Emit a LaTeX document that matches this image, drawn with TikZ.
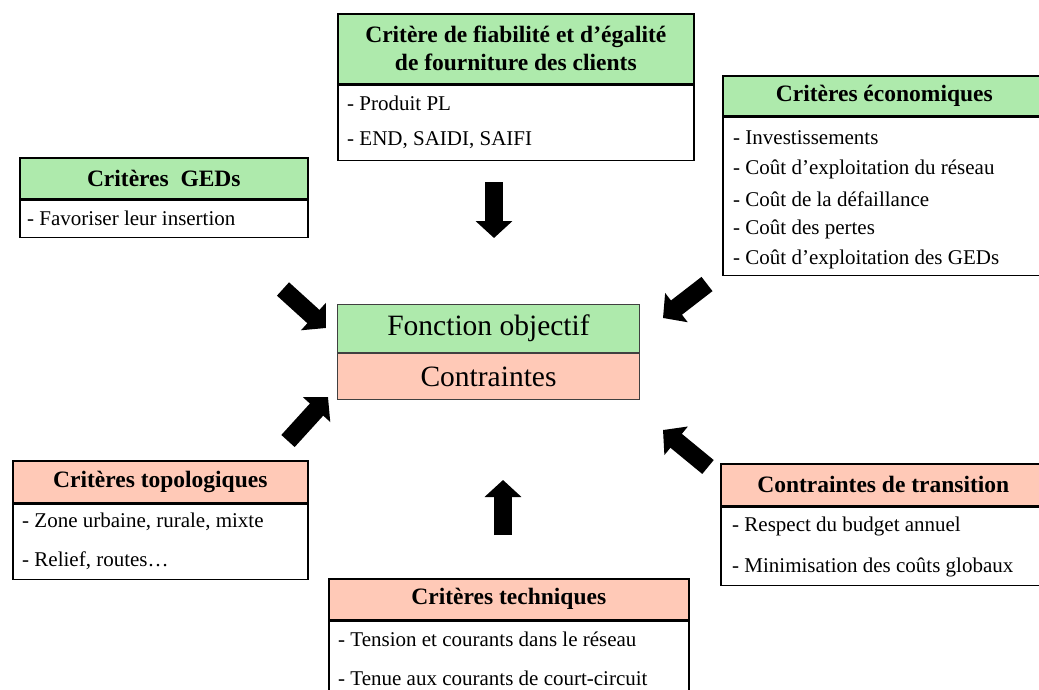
\documentclass[tikz,border=0pt]{standalone}
\usepackage{fontspec}
\setmainfont{Liberation Serif}
\usetikzlibrary{positioning,arrows.meta}
\definecolor{vert}{RGB}{174,234,172}
\definecolor{saumon}{RGB}{255,201,183}
\begin{document}
\begin{tikzpicture}[
  x=1pt, y=-1pt,
  tete/.style={draw=black, line width=1.6pt, inner sep=0pt, anchor=north west, align=center,
    font=\fontsize{23.5}{28}\selectfont\bfseries},
  corps/.style={draw=black, line width=1.6pt, inner sep=0pt, fill=white},
  ligne/.style={anchor=west, inner sep=0pt, font=\fontsize{21}{25}\selectfont},
  centre/.style={draw=black!75, line width=1pt, inner sep=0pt, font=\fontsize{29.5}{34}\selectfont},
  fleche/.style={line width=18pt, -{Triangle[width=36pt,length=17pt]}}
]
  \useasboundingbox (0,0) rectangle (1039,690);

  % Critere de fiabilite (haut)
  \node[tete, fill=vert, minimum width=356pt, minimum height=70pt] (fiabH) at (337,13)
    {Critère de fiabilité et d’égalité\\de fourniture des clients};
  \node[corps, minimum width=356pt, minimum height=75pt, below=0pt of fiabH] (fiabB) {};
  \node[ligne] (fiab1) at (347,103) {- Produit PL};
  \node[ligne] (fiab2) at (347,140) {- END, SAIDI, SAIFI};

  % Criteres GEDs
  \node[tete, fill=vert, minimum width=288pt, minimum height=41pt] (gedH) at (19,157) {Critères\ \ GEDs};
  \node[corps, minimum width=288pt, minimum height=37pt, below=0pt of gedH] (gedB) {};
  \node[ligne] (ged1) at (27,218) {- Favoriser leur insertion};

  % Criteres economiques
  \node[tete, fill=vert, minimum width=323pt, minimum height=40pt] (ecoH) at (722,75) {Critères économiques};
  \node[corps, minimum width=323pt, minimum height=158pt, below=0pt of ecoH] (ecoB) {};
  \node[ligne] (eco1) at (733,138) {- Investissements};
  \node[ligne] (eco2) at (733,169) {- Coût d’exploitation du réseau};
  \node[ligne] (eco3) at (733,199) {- Coût de la défaillance};
  \node[ligne] (eco4) at (733,229) {- Coût des pertes};
  \node[ligne] (eco5) at (733,259) {- Coût d’exploitation des GEDs};

  % Bloc central
  \node[centre, fill=vert, anchor=north west, minimum width=302pt, minimum height=48pt] (objF) at (337,304) {Fonction objectif};
  \node[centre, fill=saumon, minimum width=302pt, minimum height=46pt, below=0pt of objF] (objC) {Contraintes};

  % Criteres topologiques
  \node[tete, fill=saumon, minimum width=295pt, minimum height=42pt] (topoH) at (12,460) {Critères topologiques};
  \node[corps, minimum width=295pt, minimum height=75pt, below=0pt of topoH] (topoB) {};
  \node[ligne] (topo1) at (22,522) {- Zone urbaine, rurale, mixte};
  \node[ligne] (topo2) at (22,561) {- Relief, routes…};

  % Contraintes de transition
  \node[tete, fill=saumon, minimum width=325pt, minimum height=42pt] (transH) at (720,463) {Contraintes de transition};
  \node[corps, minimum width=325pt, minimum height=78pt, below=0pt of transH] (transB) {};
  \node[ligne] (trans1) at (732,526) {- Respect du budget annuel};
  \node[ligne] (trans2) at (732,567) {- Minimisation des coûts globaux};

  % Criteres techniques
  \node[tete, fill=saumon, minimum width=360pt, minimum height=41pt] (techH) at (328,578) {Critères techniques};
  \node[corps, minimum width=360pt, minimum height=85pt, below=0pt of techH] (techB) {};
  \node[ligne] (tech1) at (338,639) {- Tension et courants dans le réseau};
  \node[ligne] (tech2) at (338,678) {- Tenue aux courants de court-circuit};

  % Fleches vers le bloc central
  \coordinate (hautA) at (494,182);   \coordinate (hautB) at (494,238);
  \coordinate (basA) at (503,535);    \coordinate (basB) at (503,480);
  \coordinate (hgA) at (283,289);     \coordinate (hgB) at (326,328);
  \coordinate (bgA) at (288,441);     \coordinate (bgB) at (328,397);
  \coordinate (hdA) at (707,284);     \coordinate (hdB) at (663,318);
  \coordinate (bdA) at (708,467);     \coordinate (bdB) at (663,430);
  \draw[fleche] (hautA) -- (hautB);
  \draw[fleche] (basA) -- (basB);
  \draw[fleche] (hgA) -- (hgB);
  \draw[fleche] (bgA) -- (bgB);
  \draw[fleche] (hdA) -- (hdB);
  \draw[fleche] (bdA) -- (bdB);
\end{tikzpicture}
\end{document}
